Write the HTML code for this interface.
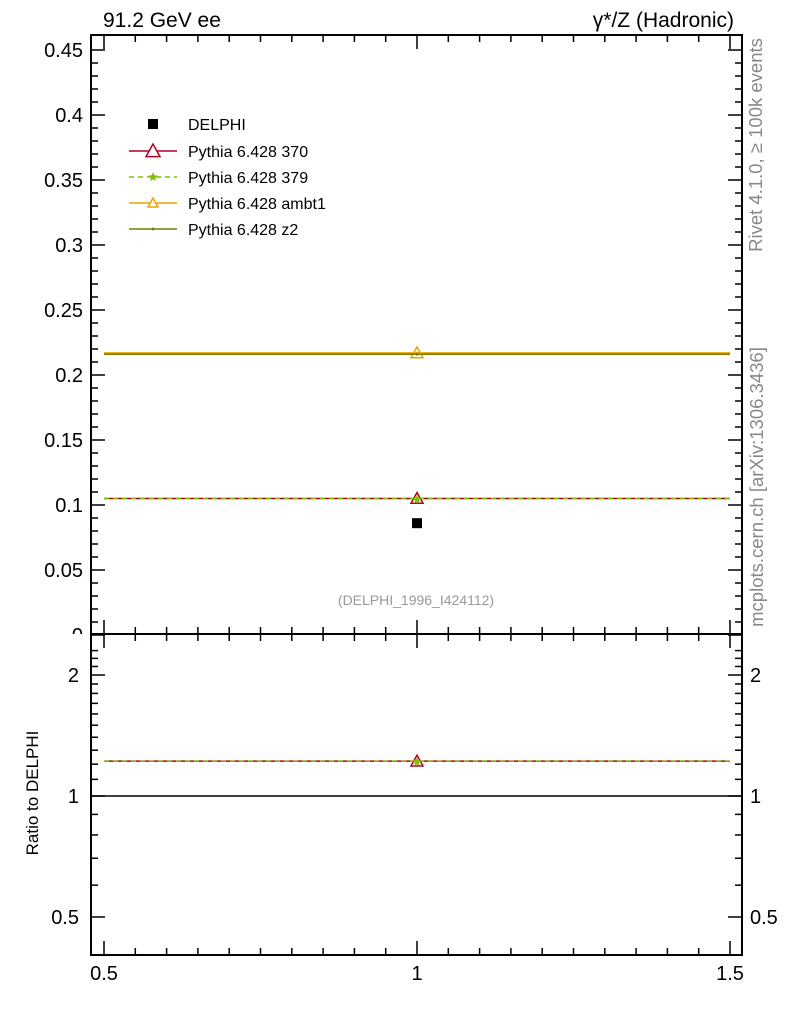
<!DOCTYPE html>
<html><head><meta charset="utf-8"><style>
body{margin:0;background:#fff;}
svg{display:block;font-family:"Liberation Sans",sans-serif;}
</style></head><body>
<svg id="c" width="786" height="1024" xmlns="http://www.w3.org/2000/svg"></svg>
<script>
const xTicks=[0.5,1,1.5];
const yTicks=[0,0.05,0.1,0.15,0.2,0.25,0.3,0.35,0.4,0.45];
const yLabels=["0","0.05","0.1","0.15","0.2","0.25","0.3","0.35","0.4","0.45"];
const rTicks=[0.5,1,2];
const rLabels=["0.5","1","2"];
const dataVal=[0.086];
const s370=[0.105];
const s379=[0.105];
const sAmbt1=[0.217];
const sZ2=[0.216];
const xCenter=[1];

const L=91,R=742,T=35,M=634,B=955;
const X=v=>104+(v-0.5)*626;
const Y=v=>635-v*1300;
const RY=v=>796-Math.log2(v)*121;
const svg=document.getElementById('c');
const NS='http://www.w3.org/2000/svg';
function mk(t,a,p){const e=document.createElementNS(NS,t);for(const k in a)e.setAttribute(k,a[k]);(p||svg).appendChild(e);return e;}
function txt(x,y,s,a,p){const e=mk('text',Object.assign({x:x,y:y},a||{}),p);e.textContent=s;return e;}

const defs=mk('defs',{});
const cp=mk('clipPath',{id:'rc'},defs);mk('rect',{x:L,y:M+1,width:R-L,height:B-M-1},cp);
const cm=mk('clipPath',{id:'mc'},defs);mk('rect',{x:0,y:0,width:786,height:M},cm);

let f=mk('rect',{x:L,y:T,width:R-L,height:M-T,fill:'none',stroke:'#000','stroke-width':2});

f=mk('rect',{x:L,y:M,width:R-L,height:B-M,fill:'none',stroke:'#000','stroke-width':2});


for(let v=0;v<=0.46;v+=0.01){const y=Y(v);if(y<T)break;const maj=Math.abs(v/0.05-Math.round(v/0.05))<1e-6;const w=maj?14:7;
mk('line',{x1:L,x2:L+w,y1:y,y2:y,stroke:'#000','stroke-width':1.5});mk('line',{x1:R,x2:R-w,y1:y,y2:y,stroke:'#000','stroke-width':1.5});}
yTicks.forEach((v,i)=>{const t=txt(L-8,Y(v)+7,yLabels[i],{'text-anchor':'end','font-size':20,'clip-path':'url(#mc)'});
});
for(let v=0.5;v<=1.501;v+=0.05){const x=X(v);const maj=Math.abs(v*10-Math.round(v*10))<1e-6&&Math.round(v*10)%5==0;const w=maj?14:7;
[[T,1],[M,-1],[M,1],[B,-1]].forEach(([y0,d])=>mk('line',{x1:x,x2:x,y1:y0,y2:y0+d*w,stroke:'#000','stroke-width':1.5}));}
xTicks.forEach(v=>{const t=txt(X(v),980,String(v),{'text-anchor':'middle','font-size':20});
});
for(let v=0.4;v<=2.4;v+=0.1){const y=RY(v);if(y<M||y>B)continue;const maj=rTicks.some(r=>Math.abs(r-v)<1e-6);const w=maj?14:7;
mk('line',{x1:L,x2:L+w,y1:y,y2:y,stroke:'#000','stroke-width':1.5});mk('line',{x1:R,x2:R-w,y1:y,y2:y,stroke:'#000','stroke-width':1.5});}
rTicks.forEach((v,i)=>{let t=txt(L-12,RY(v)+7,rLabels[i],{'text-anchor':'end','font-size':20});

t=txt(R+8,RY(v)+7,rLabels[i],{'font-size':20});});
mk('line',{x1:L,x2:R,y1:RY(1),y2:RY(1),stroke:'#000','stroke-width':1.5});

function tri(x,y,c,fill,s,p){return mk('polygon',{points:`${x},${y-s} ${x-s},${y+s*0.8} ${x+s},${y+s*0.8}`,fill:fill,stroke:c,'stroke-width':1.5},p);}
function star(x,y,r,c,p){let pts=[];for(let k=0;k<10;k++){const a=-Math.PI/2+k*Math.PI/5;const rr=k%2?r*0.45:r;pts.push((x+rr*Math.cos(a)).toFixed(1)+','+(y+rr*Math.sin(a)).toFixed(1));}
return mk('polygon',{points:pts.join(' '),fill:c},p);}
const series=[
 {n:'series-370',v:s370,c:'#b00020',dash:'',m:'tri'},
 {n:'series-379',v:s379,c:'#80c000',dash:'5,4',m:'star'},
 {n:'series-ambt1',v:sAmbt1,c:'#f0a000',dash:'',m:'tri'},
 {n:'series-z2',v:sZ2,c:'#708000',dash:'',m:'dot'}];
series.forEach(s=>{const g=mk('g',{});
 const gr=mk('g',{'clip-path':'url(#rc)'},g);
 s.v.forEach((v,i)=>{const x=xCenter[i];
  const pts=[[Y(v),g]];const ry=RY(v/dataVal[i]);if(ry>M+6&&ry<B-6)pts.push([ry,gr]);
  pts.forEach(([y,p])=>{
   mk('line',{x1:X(0.5),x2:X(1.5),y1:y,y2:y,stroke:s.c,'stroke-width':1.5,'stroke-dasharray':s.dash},p);
   if(s.m=='tri')tri(X(x),y,s.c,'none',6,p);
   else if(s.m=='star')star(X(x),y+1,5,s.c,p);
   else mk('circle',{cx:X(x),cy:y,r:1.5,fill:s.c},p);});});});
dataVal.forEach((v,i)=>{const r=mk('rect',{x:X(xCenter[i])-5,y:Y(v)-5,width:10,height:10,fill:'#000'});
});

let t=txt(103,27,'91.2 GeV ee',{'font-size':21});
t=txt(734,27,'γ*/Z (Hadronic)',{'font-size':21,'text-anchor':'end'});
t=txt(416,605,'(DELPHI_1996_I424112)',{'font-size':14,'fill':'#999','text-anchor':'middle'});
t=txt(0,0,'Ratio to DELPHI',{'font-size':17,'text-anchor':'middle',transform:'translate(38,793) rotate(-90)'});
t=txt(0,0,'Rivet 4.1.0, ≥ 100k events',{'font-size':18.5,'fill':'#888','text-anchor':'middle',transform:'translate(762,145) rotate(-90)'});
t=txt(0,0,'mcplots.cern.ch [arXiv:1306.3436]',{'font-size':18.5,'fill':'#888','text-anchor':'middle',transform:'translate(763,487) rotate(-90)'});

const lg=mk('g',{});
mk('rect',{x:148,y:119,width:10,height:10,fill:'#000'},lg);
txt(188,130,'DELPHI',{'font-size':16},lg);
const names=['Pythia 6.428 370','Pythia 6.428 379','Pythia 6.428 ambt1','Pythia 6.428 z2'];
series.forEach((s,i)=>{const y=151+i*26;const e=mk('g',{},lg);
 mk('line',{x1:129,x2:177,y1:y,y2:y,stroke:s.c,'stroke-width':1.5,'stroke-dasharray':s.dash},e);
 if(s.m=='tri')tri(153,y,s.c,'#fff',i==0?7:5,e);
 else if(s.m=='star')star(153,y,5,s.c,e);
 else mk('circle',{cx:153,cy:y,r:1.5,fill:s.c},e);
 txt(188,y+6,names[i],{'font-size':16},e);});
</script>
</body></html>
